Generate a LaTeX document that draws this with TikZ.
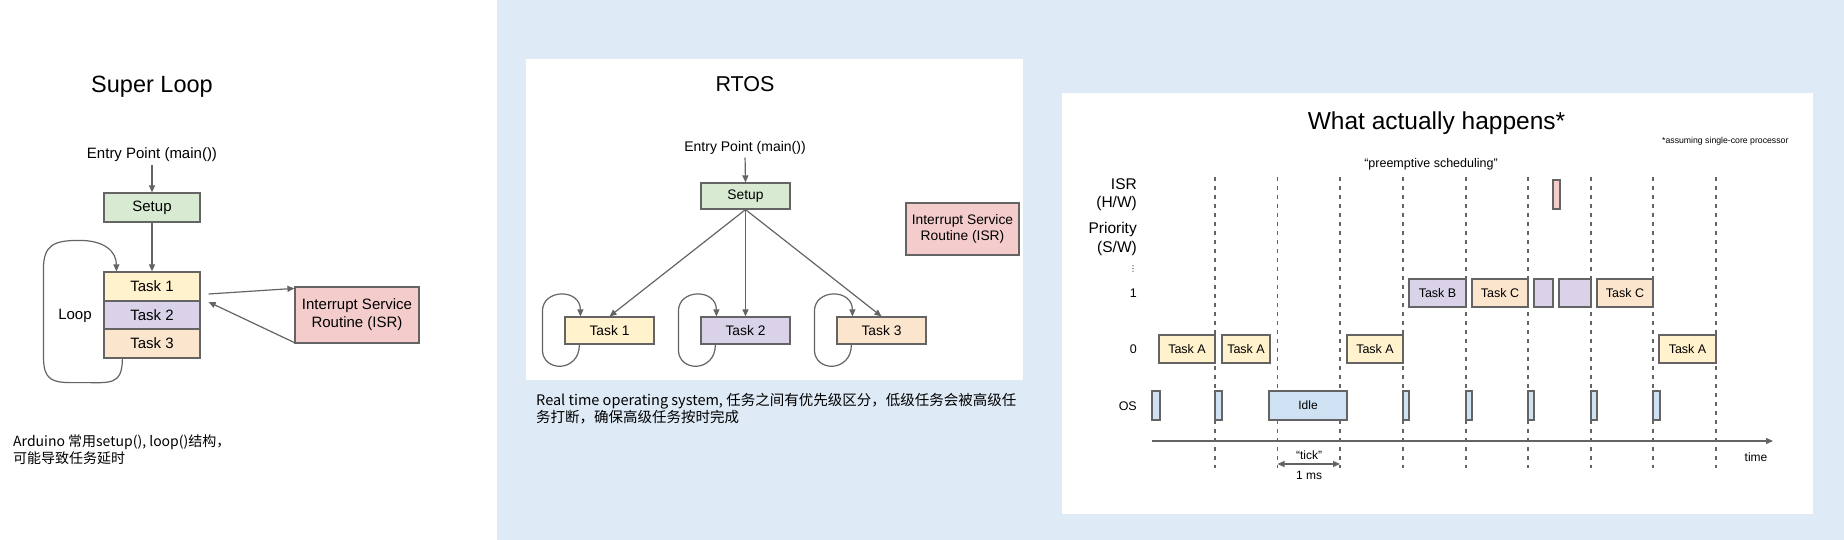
\documentclass[tikz,border=0pt]{standalone}
\usepackage{fontspec}
\setmainfont{Liberation Sans}
\newfontfamily\cjk{Noto Sans CJK SC}
\newfontfamily\dvs{DejaVu Sans}
\usetikzlibrary{arrows.meta,calc}
\definecolor{bgblue}{RGB}{222,234,246}
\definecolor{lc}{RGB}{100,100,100}
\definecolor{cgreen}{HTML}{D9EAD3}
\definecolor{cyellow}{HTML}{FFF2CC}
\definecolor{cpurple}{HTML}{D9D2E9}
\definecolor{corange}{HTML}{FCE5CD}
\definecolor{cpink}{HTML}{F4CCCC}
\definecolor{cblue}{HTML}{CFE2F3}
\newcommand{\fsz}[1]{\fontsize{#1}{#1}\selectfont}
\begin{document}
\begin{tikzpicture}[x=1pt,y=-1pt,
  bx/.style={draw=lc, line width=1.2pt, inner sep=0pt, align=center},
  lbl/.style={inner sep=0pt, align=center},
  arr/.style={draw=lc, line width=1.2pt, -{Triangle[length=7pt,width=6pt]}},
  tk/.style={draw=lc, line width=1.1pt, dash pattern=on 4pt off 5pt},
  tb/.style={bx, font=\fsz{12.5}, minimum height=28pt},
  ob/.style={bx, fill=cblue, minimum height=29pt}]
\useasboundingbox (0,0) rectangle (1844,540);
% backgrounds
\fill[white] (0,0) rectangle (497,540);
\fill[bgblue] (497,0) rectangle (1844,540);
\fill[white] (526,59) rectangle (1023,380);
\fill[white] (1062,93) rectangle (1813,514);

% ---------------- Super Loop ----------------
\node[lbl, font=\fsz{23.5}] (slt) at (152,87) {Super Loop};
\node[lbl, font=\fsz{15}] (e1) at (152,155) {Entry Point (main())};
\node[bx, fill=cgreen, minimum width=96pt, minimum height=29pt, font=\fsz{15}] (s1) at (152,207.5) {Setup};
\node[bx, fill=cyellow, minimum width=96pt, minimum height=29pt, font=\fsz{15}] (t1) at (152,286.5) {Task 1};
\node[bx, fill=cpurple, minimum width=96pt, minimum height=28pt, font=\fsz{15}] (t2) at (152,315) {Task 2};
\node[bx, fill=corange, minimum width=96pt, minimum height=29pt, font=\fsz{15}] (t3) at (152,343.5) {Task 3};
\node[bx, fill=cpink, minimum width=124pt, minimum height=56pt, font=\fontsize{15}{18}\selectfont] (isr1) at (357,315) {Interrupt Service\\Routine (ISR)};
\node[lbl, font=\fsz{15}] (lp) at (75,316) {Loop};
\draw[arr, shorten <=3pt] (e1.south) -- (s1.north);
\draw[arr] (s1.south) -- (t1.north);
\draw[arr] ($(t3.south west)+(19,0)$) .. controls ($(t3.south west)+(19,27)$) and ($(t3.south west)+(6,24)$) .. ($(t3.south west)+(-19,24)$)
  -- ($(t3.south west)+(-34,24)$) .. controls ($(t3.south west)+(-59,24)$) and ($(t3.south west)+(-60,14)$) .. ($(t3.south west)+(-60,-8)$)
  -- ($(t1.north west)+(-60,-2)$) .. controls ($(t1.north west)+(-60,-27)$) and ($(t1.north west)+(-49,-31)$) .. ($(t1.north west)+(-24,-31)$)
  .. controls ($(t1.north west)+(1,-31)$) and ($(t1.north west)+(13,-20)$) .. ($(t1.north west)+(13,0)$);
\coordinate (ia) at ($(t1.east)+(8,7.5)$);
\coordinate (ib) at ($(t1.east)+(8,15.5)$);
\draw[arr] (ia) -- ($(isr1.north west)+(0,2)$);
\draw[arr] ($(isr1.south west)+(0,-1)$) -- (ib);
\node[lbl, anchor=west, font=\cjk\fontsize{14}{17}\selectfont, align=left] (cap1) at (13,449.5) {Arduino 常用setup(), loop()结构，\\可能导致任务延时};

% ---------------- RTOS ----------------
\node[lbl, font=\fsz{21.5}] (rt) at (745,84) {RTOS};
\node[lbl, font=\fsz{14}] (e2) at (745,148) {Entry Point (main())};
\node[bx, fill=cgreen, minimum width=89pt, minimum height=26pt, font=\fsz{13.8}] (s2) at (745.5,196) {Setup};
\node[bx, fill=cyellow, minimum width=89pt, minimum height=27pt, font=\fsz{13.8}] (r1) at (609.5,330.5) {Task 1};
\node[bx, fill=cpurple, minimum width=89pt, minimum height=27pt, font=\fsz{13.8}] (r2) at (745.5,330.5) {Task 2};
\node[bx, fill=corange, minimum width=89pt, minimum height=27pt, font=\fsz{13.8}] (r3) at (881.5,330.5) {Task 3};
\node[bx, fill=cpink, minimum width=113pt, minimum height=52pt, font=\fontsize{13.8}{16.7}\selectfont] (isr2) at (962.5,229) {Interrupt Service\\Routine (ISR)};
\draw[arr, shorten <=3pt] (e2.south) -- (s2.north);
\draw[arr] (s2.south) -- (r1.north);
\draw[arr] (s2.south) -- (r2.north);
\draw[arr] (s2.south) -- (r3.north);
\foreach \n in {r1,r2,r3}{
  \draw[arr] ($(\n.south west)+(15,0)$) .. controls ($(\n.south west)+(15,28)$) and ($(\n.south west)+(-22,28)$) .. ($(\n.south west)+(-22,5)$)
   -- ($(\n.north west)+(-22,-5)$) .. controls ($(\n.north west)+(-22,-28)$) and ($(\n.north west)+(16,-28)$) .. ($(\n.north west)+(16,0)$);
}
\node[lbl, anchor=west, font=\cjk\fontsize{14.5}{17}\selectfont, align=left] (cap2) at (536,408.5) {Real time operating system, 任务之间有优先级区分，低级任务会被高级任\\务打断，确保高级任务按时完成};

% ---------------- Timeline ----------------
\node[lbl, font=\fsz{24.5}] (wt) at (1436.5,123) {What actually happens*};
\node[lbl, anchor=west, font=\fsz{8.7}] (note) at (1662,141) {*assuming single-core processor};
\node[lbl, font=\fsz{12.5}] (pre) at (1431,164) {“preemptive scheduling”};
\node[lbl, anchor=east, font=\fsz{15.5}] (l1) at (1137,184) {ISR};
\node[lbl, anchor=east, font=\fsz{15.5}] (l2) at (1137,203) {(H/W)};
\node[lbl, anchor=east, font=\fsz{15.5}] (l3) at (1137,229) {Priority};
\node[lbl, anchor=east, font=\fsz{15.5}] (l4) at (1137,248) {(S/W)};
\node[lbl, font=\dvs\fsz{8}] (l5) at (1133,269) {⋮};
\node[lbl, anchor=east, font=\fsz{12.5}] (l6) at (1137,293) {1};
\node[lbl, anchor=east, font=\fsz{12.5}] (l7) at (1137,349) {0};
\node[lbl, anchor=east, font=\fsz{12.5}] (l8) at (1137,406) {OS};
% tick lines
\foreach \x in {1215,1277.5,1340,1403,1466,1528,1591,1653,1716}{
  \draw[tk] (\x,177) -- (\x,468);
}
% axis
\coordinate (ax0) at (1152,441);
\coordinate (ax1) at (1773,441);
\draw[arr] (ax0) -- (ax1);
\node[lbl, font=\fsz{12}] (tm) at (1756,457) {time};
% ISR
\node[bx, fill=cpink, minimum width=7pt, minimum height=29pt] (i1) at (1556.5,194.5) {};
% priority 1
\node[tb, fill=cpurple, minimum width=57pt] (b1) at (1437.5,293) {Task B};
\node[tb, fill=corange, minimum width=56pt] (c1) at (1500,293) {Task C};
\node[tb, fill=cpurple, minimum width=19pt] (p1) at (1543.5,293) {};
\node[tb, fill=cpurple, minimum width=32pt] (p2) at (1575,293) {};
\node[tb, fill=corange, minimum width=56pt] (c2) at (1625,293) {Task C};
% priority 0
\node[tb, fill=cyellow, minimum width=56pt] (a1) at (1187,349) {Task A};
\node[tb, fill=cyellow, minimum width=48pt] (a2) at (1246,349) {Task A};
\node[tb, fill=cyellow, minimum width=56pt] (a3) at (1375,349) {Task A};
\node[tb, fill=cyellow, minimum width=57pt] (a4) at (1687.5,349) {Task A};
% OS
\node[ob, minimum width=8pt] (o1) at (1156,405.5) {};
\node[ob, minimum width=7pt] (o2) at (1218.5,405.5) {};
\node[ob, minimum width=78pt, font=\fsz{12}] (idle) at (1308,405.5) {Idle};
\node[ob, minimum width=6pt] (o3) at (1406,405.5) {};
\node[ob, minimum width=6pt] (o4) at (1469,405.5) {};
\node[ob, minimum width=6pt] (o5) at (1531,405.5) {};
\node[ob, minimum width=6pt] (o6) at (1594,405.5) {};
\node[ob, minimum width=7pt] (o7) at (1656.5,405.5) {};
% tick measure
\node[lbl, font=\fsz{12}] (tick) at (1309,455) {“tick”};
\coordinate (tk0) at (1277.5,464);
\coordinate (tk1) at (1340,464);
\draw[draw=lc, line width=1.2pt, {Triangle[length=7pt,width=6pt]}-{Triangle[length=7pt,width=6pt]}] (tk0) -- (tk1);
\node[lbl, font=\fsz{12}] (ms) at (1309,475) {1 ms};
\end{tikzpicture}
\end{document}
